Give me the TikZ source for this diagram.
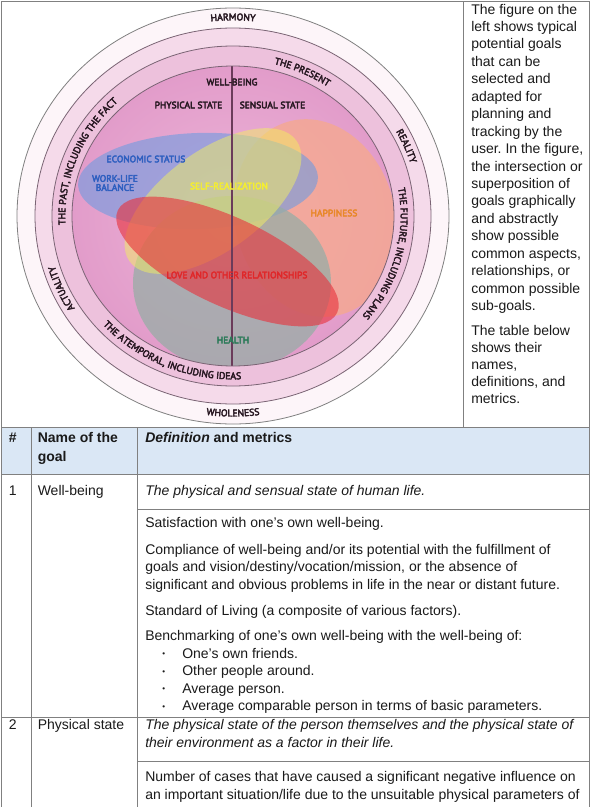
\documentclass[tikz,border=0pt]{standalone}
\usepackage{fontspec}
\setmainfont{Liberation Sans}
\newfontfamily\lab{PT Sans}[FakeBold=4]
\usetikzlibrary{decorations.text}
\definecolor{ringA}{HTML}{FDF5F9}
\definecolor{ringB}{HTML}{F5DAEA}
\definecolor{ringC}{HTML}{EDC1DC}
\definecolor{inIn}{HTML}{EDB5D8}
\definecolor{inOut}{HTML}{E29CCA}
\definecolor{cline}{HTML}{7A6474}
\definecolor{vline}{HTML}{6B3B5A}
\definecolor{ebl}{HTML}{6F9BE0}
\definecolor{eye}{HTML}{F2EE62}
\definecolor{esa}{HTML}{F5A890}
\definecolor{egr}{HTML}{98ADA6}
\definecolor{ere}{HTML}{E8303A}
\definecolor{tblue}{HTML}{2F5FC0}
\definecolor{tyel}{HTML}{F4EE30}
\definecolor{torg}{HTML}{E8882A}
\definecolor{tred}{HTML}{E0282A}
\definecolor{tgrn}{HTML}{2B7A58}
\definecolor{tdark}{HTML}{2A1A24}
\definecolor{hdr}{HTML}{DAE7F5}
\definecolor{tgray}{HTML}{808080}
\definecolor{txt}{HTML}{1A1A1A}
\newcommand\ringfont{\lab\fontsize{7.3}{8}\selectfont}
\frenchspacing
\begin{document}
\begin{tikzpicture}[x=0.75pt,y=-0.75pt,
  tx/.style={anchor=base west, inner sep=0pt, font=\fontsize{10.5}{13}\selectfont, text=txt},
  tit/.style={tx, font=\fontsize{10.5}{13}\selectfont\itshape},
  hx/.style={tx, font=\fontsize{10.5}{13}\selectfont\bfseries},
  bul/.style={anchor=base west, inner sep=0pt, font=\fontsize{6}{7}\selectfont, text=txt},
  lb/.style={inner sep=0pt, font=\lab\fontsize{7.1}{8}\selectfont, text=tdark},
  ring/.style={draw=cline, line width=0.6pt},
  tline/.style={draw=tgray, line width=0.75pt},
  arctxt/.style={decorate, decoration={text along path, text align=center, text color=tdark, text={|\ringfont|#1}}}]
\useasboundingbox (0,0) rectangle (591,807);
\fill[white] (0,0) rectangle (591,807);

% ---------- circle diagram ----------
\fill[ringA] (233,216) ellipse[x radius=216, y radius=208];
\fill[ringB] (233,216) ellipse[x radius=198, y radius=188];
\fill[ringC] (233,216) ellipse[x radius=181, y radius=170];
\shade[inner color=inIn, outer color=inOut] (233,216) ellipse[x radius=161, y radius=150];

\begin{scope}
  \clip (233,216) ellipse[x radius=161, y radius=150];
  \fill[esa, fill opacity=0.8, rotate around={15:(315,218)}] (315,218) ellipse[x radius=80, y radius=100];
  \fill[ebl, fill opacity=0.6, rotate around={2:(198,181)}] (198,181) ellipse[x radius=120, y radius=48];
  \fill[egr, fill opacity=0.75] (232,283) ellipse[x radius=99, y radius=87];
  \fill[eye, fill opacity=0.5, rotate around={36:(213,201)}] (213,201) ellipse[x radius=103, y radius=50];
  \fill[ere, fill opacity=0.6, rotate around={-25:(227.5,261.5)}] (227.5,261.5) ellipse[x radius=121, y radius=44];
\end{scope}

\coordinate (vt) at (232,66);
\coordinate (vb) at (232,366);
\draw[vline, line width=0.8pt] (vt) -- (vb);

\draw[draw=tgray, line width=0.6pt] (233,216) ellipse[x radius=216, y radius=208];
\draw[ring] (233,216) ellipse[x radius=198, y radius=188];
\draw[ring] (233,216) ellipse[x radius=181, y radius=170];
\draw[ring] (233,216) ellipse[x radius=161, y radius=150];

\begin{scope}[shift={(233,216)}]
  \path[arctxt={HARMONY}] (-105:205 and 195.7) arc[start angle=-105, end angle=-75, x radius=205, y radius=195.7];
  \path[arctxt={WHOLENESS}] (105:209 and 200.5) arc[start angle=105, end angle=75, x radius=209, y radius=200.5];
  \path[arctxt={REALITY}] (-37:186 and 175.7) arc[start angle=-37, end angle=-9, x radius=186, y radius=175.7];
  \path[arctxt={ACTUALITY}] (-220:186 and 175.7) arc[start angle=-220, end angle=-188, x radius=186, y radius=175.7];
  \path[arctxt={THE PRESENT}] (-90:167.7 and 156.7) arc[start angle=-90, end angle=-41, x radius=167.7, y radius=156.7];
  \path[arctxt={THE PAST, INCLUDING THE FACT}] (-195:167.7 and 156.7) arc[start angle=-195, end angle=-122, x radius=167.7, y radius=156.7];
  \path[arctxt={THE FUTURE, INCLUDING PLANS}] (-21.5:167.7 and 156.7) arc[start angle=-21.5, end angle=50.5, x radius=167.7, y radius=156.7];
  \path[arctxt={THE ATEMPORAL, INCLUDING IDEAS}] (149:174.3 and 163.3) arc[start angle=149, end angle=77, x radius=174.3, y radius=163.3];
\end{scope}

\node[lb] (wb) at (232,82) {WELL-BEING};
\node[lb] (ps) at (188.5,105) {PHYSICAL STATE};
\node[lb] (ss) at (272.5,105) {SENSUAL STATE};
\node[lb, text=tblue] (es) at (146,159) {ECONOMIC STATUS};
\node[lb, text=tblue, align=center, font=\lab\fontsize{7.1}{6.8}\selectfont] (wl) at (115,183) {WORK-LIFE\\BALANCE};
\node[lb, text=tyel] (sr) at (229,186) {SELF-REALIZATION};
\node[lb, text=torg] (hp) at (334,213) {HAPPINESS};
\node[lb, text=tred] (lo) at (237,275) {LOVE AND OTHER RELATIONSHIPS};
\node[lb, text=tgrn] (he) at (233,340) {HEALTH};

% ---------- right text ----------
\foreach \t [count=\i] in {The figure on the, left shows typical, potential goals, that can be, selected and, adapted for, planning and, tracking by the, {user. In the figure,}, the intersection or, superposition of, goals graphically, and abstractly, show possible, {common aspects,}, {relationships, or}, common possible, sub-goals.}
  \node[tx] (pa\i) at (471,{14+(\i-1)*17.45}) {\t};
\foreach \t [count=\i] in {The table below, shows their, {names,}, {definitions, and}, metrics.}
  \node[tx] (pb\i) at (471,{335+(\i-1)*17.2}) {\t};

% ---------- table ----------
\fill[hdr] (1.5,427.5) rectangle (589.5,474.5);
\draw[tline] (1.5,807) -- (1.5,1.5) -- (589.5,1.5) -- (589.5,807);
\draw[tline] (463,1.5) -- (463,427.5);
\draw[tline] (1.5,427.5) -- (589.5,427.5);
\draw[tline] (1.5,474.5) -- (589.5,474.5);
\draw[tline] (137.5,509) -- (589.5,509);
\draw[tline] (1.5,717) -- (589.5,717);
\draw[tline] (137.5,761) -- (589.5,761);
\draw[tline] (31,427.5) -- (31,807);
\draw[tline] (137.5,427.5) -- (137.5,807);

\node[hx] (h1) at (8.5,442) {\#};
\node[hx] (h2a) at (37.5,442) {Name of the};
\node[hx] (h2b) at (37.5,461) {goal};
\node[hx] (h3) at (145,442) {\textit{Definition} and metrics};

\node[tx] (n1) at (8.5,495) {1};
\node[tx] (g1) at (37.5,495) {Well-being};
\node[tit] (d1) at (145,495) {The physical and sensual state of human life.};
\node[tx] (m1) at (145,527.5) {Satisfaction with one's own well-being.};
\node[tx] (m2a) at (145,554) {Compliance of well-being and/or its potential with the fulfillment of};
\node[tx] (m2b) at (145,571.5) {goals and vision/destiny/vocation/mission, or the absence of};
\node[tx] (m2c) at (145,589) {significant and obvious problems in life in the near or distant future.};
\node[tx] (m3) at (145,615.5) {Standard of Living (a composite of various factors).};
\node[tx] (m4) at (145,640.5) {Benchmarking of one's own well-being with the well-being of:};
\foreach \t [count=\i] in {One's own friends., Other people around., Average person., Average comparable person in terms of basic parameters.}{
  \node[bul] (b\i) at (162,{656.5+(\i-1)*17.5}) {\textbullet};
  \node[tx] (bt\i) at (182,{658+(\i-1)*17.5}) {\t};
}

\node[tx] (n2) at (8.5,729.5) {2};
\node[tx] (g2) at (37.5,729.5) {Physical state};
\node[tit] (d2a) at (145,729.5) {The physical state of the person themselves and the physical state of};
\node[tit] (d2b) at (145,747) {their environment as a factor in their life.};
\node[tx] (k1) at (145,781.5) {Number of cases that have caused a significant negative influence on};
\node[tx] (k2) at (145,799) {an important situation/life due to the unsuitable physical parameters of};
\end{tikzpicture}
\end{document}
